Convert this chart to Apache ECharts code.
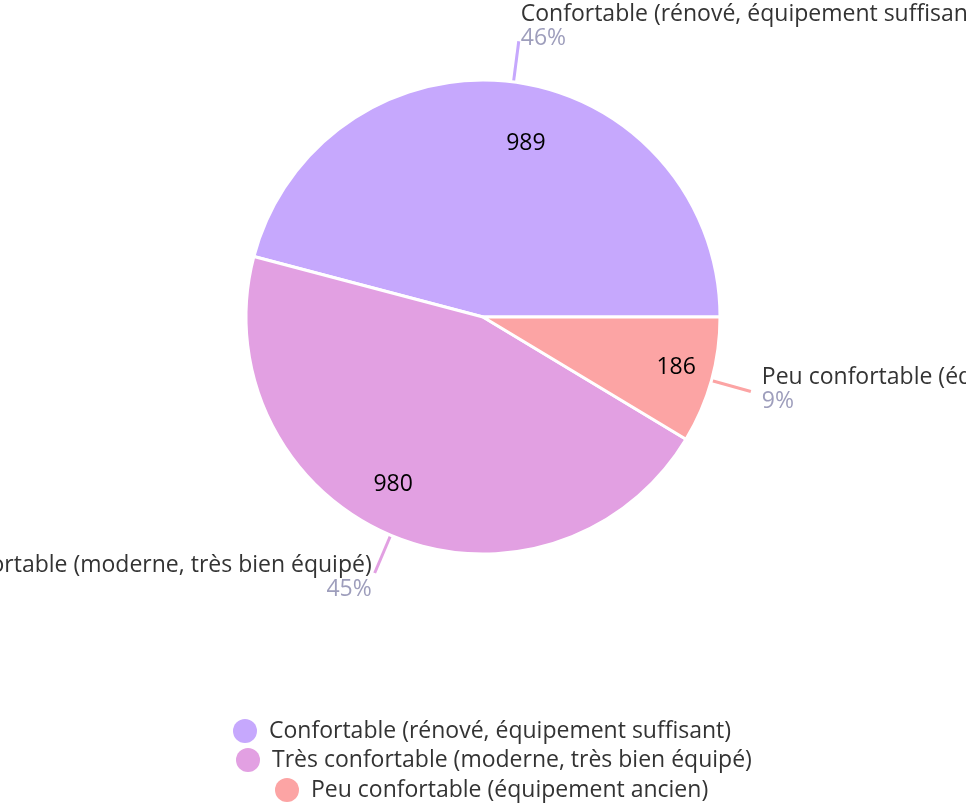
<!DOCTYPE html>
<html>
<head>
<meta charset="utf-8">
<script src="https://cdn.jsdelivr.net/npm/echarts@6/dist/echarts.min.js"></script>
<style>
html,body{margin:0;padding:0;background:#fff;}
#chart{width:966px;height:804px;}
</style>
</head>
<body>
<div id="chart"></div>
<script>
const categories = [
  "Confortable (rénové, équipement suffisant)",
  "Très confortable (moderne, très bien équipé)",
  "Peu confortable (équipement ancien)"
];
const values = [989, 980, 186];
const colors = ["#C6A8FD", "#E2A0E2", "#FCA4A4"];

const FONT = "Open Sans";
const FS = 23;
const chart = echarts.init(document.getElementById('chart'));

const outerLabelTweak = [
  { padding: [0, 0, 30, 0], distanceToLabelLine: 2 },
  { padding: [9, 0, 0, 0], distanceToLabelLine: 3 },
  { padding: [0, 0, 4, 0], distanceToLabelLine: 11 }
];
const mainData = categories.map((c, i) => ({
  name: c,
  value: values[i],
  itemStyle: { color: colors[i] },
  labelLine: { lineStyle: { color: colors[i] } },
  label: outerLabelTweak[i]
}));

// inner value labels: left-anchored on the right half, right-anchored on the left half
const innerSide = ['l', 'r', 'l'];
const innerPadTop = [10, 4, 4];
const innerData = categories.map((c, i) => ({
  name: c,
  value: values[i],
  label: {
    formatter: '{' + innerSide[i] + '|{c}}',
    padding: innerSide[i] === 'l' ? [innerPadTop[i], 0, 0, 50] : [innerPadTop[i], 50, 0, 0]
  }
}));

const legendLeft = [233, 236, 275];
const legendTop = [719, 748, 778];

chart.setOption({
  animation: false,
  legend: categories.map((c, i) => ({
    data: [c],
    left: legendLeft[i],
    top: legendTop[i],
    icon: 'circle',
    itemWidth: 38,
    itemHeight: 24,
    padding: 0,
    selectedMode: false,
    itemStyle: { borderColor: 'rgba(0,0,0,0)', borderWidth: 0 },
    textStyle: { fontFamily: FONT, fontSize: FS, color: '#333' }
  })),
  series: [
    {
      type: 'pie',
      center: [483, 317],
      radius: [0, 237],
      startAngle: 0,
      clockwise: false,
      avoidLabelOverlap: false,
      percentPrecision: 0,
      itemStyle: { borderColor: '#fff', borderWidth: 3 },
      label: {
        show: true,
        position: 'outside',
        overflow: 'none',
        formatter: '{n|{b}}\n{p|{d}%}',
        rich: {
          n: { fontFamily: FONT, fontSize: FS, color: '#333', lineHeight: 24 },
          p: { fontFamily: FONT, fontSize: FS, color: '#9E9EBC', lineHeight: 24 }
        }
      },
      labelLine: { show: true, length: 41, length2: 0, lineStyle: { width: 3 } },
      data: mainData
    },
    {
      type: 'pie',
      center: [483, 317],
      radius: [117, 237],
      startAngle: 0,
      clockwise: false,
      silent: true,
      itemStyle: { color: 'rgba(0,0,0,0)' },
      label: {
        show: true,
        position: 'inside',
        rich: {
          l: { fontFamily: FONT, fontSize: 23, color: '#000', width: 50, align: 'left' },
          r: { fontFamily: FONT, fontSize: 23, color: '#000', width: 50, align: 'right' }
        }
      },
      labelLine: { show: false },
      data: innerData
    }
  ]
});
</script>
</body>
</html>
